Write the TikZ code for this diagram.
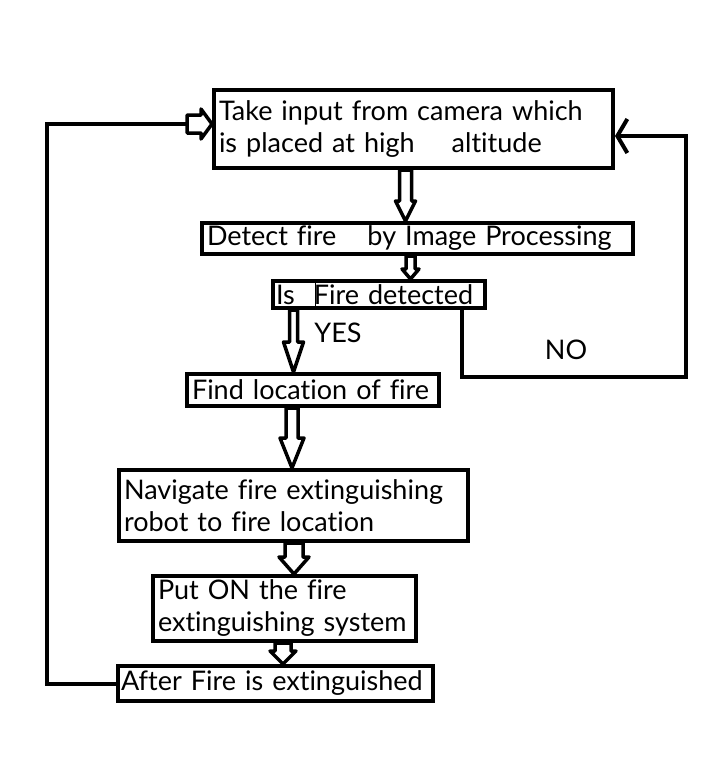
\documentclass[tikz,border=0pt]{standalone}
\usepackage{fontspec}
\setmainfont{Lato}[Ligatures=NoCommon]
\usetikzlibrary{arrows.meta, calc}

\begin{document}
\begin{tikzpicture}[
        x=1pt, y=-1pt,
        box/.style={rectangle, draw, line width=4pt, inner xsep=5pt, inner ysep=0pt, align=left, font=\fontsize{27}{32}\selectfont},
        lbl/.style={font=\fontsize{27}{30}\selectfont},
        conn/.style={draw, line width=4pt, line join=miter},
        dnarrow/.style n args={3}{draw, line width=3.5pt, line join=round, to path={let \p1=(\tikztostart), \p2=(\tikztotarget) in
            (\x1-#1,\y1) -- (\x1-#1,\y2+#3) -- (\x1-#2,\y2+#3) -- (\x1,\y2) -- (\x1+#2,\y2+#3) -- (\x1+#1,\y2+#3) -- (\x1+#1,\y1) -- cycle}},
        rtarrow/.style n args={3}{draw, line width=3.5pt, line join=round, to path={let \p1=(\tikztostart), \p2=(\tikztotarget) in
            (\x1,\y1+#1) -- (\x2-#3,\y1+#1) -- (\x2-#3,\y1+#2) -- (\x2,\y1) -- (\x2-#3,\y1-#2) -- (\x2-#3,\y1-#1) -- (\x1,\y1-#1) -- cycle}}
    ]
        \useasboundingbox (0,0) rectangle (717,776);

        % Boxes
        \node [box, text width=389pt, minimum height=78pt] (camera) at (413.5,129) {Take input from camera which\\is placed at high\hspace{28pt} altitude};
        \node [box, text width=421pt, minimum height=31pt] (detect) at (417.5,238.5) {Detect fire\hspace{22pt} by Image Processing};
        \node [box, inner xsep=3pt, text width=206pt, minimum height=27pt] (isfire) at (379,294.5) {Is\hspace{10pt} Fire detected};
        \node [box, text width=242pt, minimum height=32pt] (findloc) at (313,390) {Find location of fire};
        \node [box, text width=339pt, minimum height=71pt] (navigate) at (293.5,505.5) {Navigate fire extinguishing\\robot to fire location};
        \node [box, text width=253pt, minimum height=65pt] (puton) at (284.5,608.5) {Put ON the fire\\extinguishing system};
        \node [box, inner xsep=3pt, text width=309pt, minimum height=35pt] (after) at (275.5,683.5) {After Fire is extinguished};

        \draw [line width=1pt] (315,0 |- isfire.north) -- (315,0 |- isfire.south);

        % Main flow
        \draw [dnarrow={6pt}{10pt}{20pt}] (405.5,0 |- camera.south) to (405.5,0 |- detect.north);
        \draw [dnarrow={4.5pt}{8.5pt}{10pt}] (410.5,0 |- detect.south) to (410.5,0 |- isfire.north);
        \draw [dnarrow={4pt}{10pt}{30pt}] (293.5,0 |- isfire.south) to (293.5,0 |- findloc.north);
        \draw [dnarrow={6pt}{12pt}{30pt}] (292,0 |- findloc.south) to (292,0 |- navigate.north);
        \draw [dnarrow={9pt}{15pt}{17pt}] (294,0 |- navigate.south) to (294,0 |- puton.north);
        \draw [dnarrow={8pt}{13pt}{13pt}] (283,0 |- puton.south) to (283,0 |- after.north);
        \node [lbl] (yes) at (338,333) {YES};

        % NO loop
        \coordinate (noturn) at (686,377);
        \draw [conn, -{Straight Barb[length=10pt, width=34pt]}] (462,0 |- isfire.south) |- (noturn) |- (camera.east |- 0,136);
        \node [lbl] (no) at (566,350) {NO};

        % Return loop
        \coordinate (ret) at (47,124);
        \draw [conn] (after.west) -| (ret) -- (ret -| 187,0);
        \draw [rtarrow={9pt}{15pt}{11pt}] (ret -| 187,0) to (camera.west |- ret);

    \end{tikzpicture}
\end{document}
